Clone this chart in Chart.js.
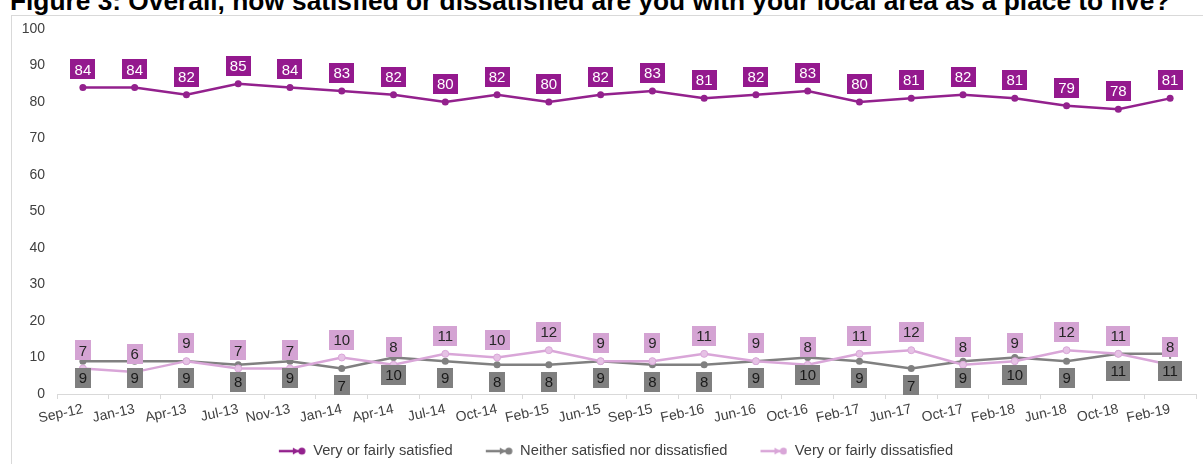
<!DOCTYPE html>
<html>
<head>
<meta charset="utf-8">
<script src="https://cdn.jsdelivr.net/npm/chart.js@4/dist/chart.umd.min.js"></script>
<style>
  html, body { margin: 0; padding: 0; background: #fff; overflow: hidden; }
  #wrap { position: relative; width: 1203px; height: 464px; }
  #title {
    position: absolute; left: 10px; top: -12.5px;
    font: bold 26.3px "Liberation Sans", Arial, sans-serif; line-height: 26px;
    color: #000; white-space: nowrap;
  }
  #frame {
    position: absolute; left: 11px; top: 15px; right: 0; bottom: 0;
    border-left: 1px solid #d9d9d9; border-top: 1px solid #d9d9d9;
  }
  #c { position: absolute; left: 0; top: 0; }
</style>
</head>
<body>
<div id="wrap">
  <div id="title">Figure 3: Overall, how satisfied or dissatisfied are you with your local area as a place to live?</div>
  <div id="frame"></div>
  <canvas id="c" width="1203" height="464"></canvas>
</div>
<script>
// Survey waves
const waves = ['Sep-12', 'Jan-13', 'Apr-13', 'Jul-13', 'Nov-13', 'Jan-14', 'Apr-14', 'Jul-14',
  'Oct-14', 'Feb-15', 'Jun-15', 'Sep-15', 'Feb-16', 'Jun-16', 'Oct-16', 'Feb-17', 'Jun-17',
  'Oct-17', 'Feb-18', 'Jun-18', 'Oct-18', 'Feb-19'];

// Percentages per wave
const satisfied    = [84, 84, 82, 85, 84, 83, 82, 80, 82, 80, 82, 83, 81, 82, 83, 80, 81, 82, 81, 79, 78, 81];
const neither      = [9, 9, 9, 8, 9, 7, 10, 9, 8, 8, 9, 8, 8, 9, 10, 9, 7, 9, 10, 9, 11, 11];
const dissatisfied = [7, 6, 9, 7, 7, 10, 8, 11, 10, 12, 9, 9, 11, 9, 8, 11, 12, 8, 9, 12, 11, 8];

// Y axis ticks
const yTicks = [0, 10, 20, 30, 40, 50, 60, 70, 80, 90, 100];

const FONT = '"Liberation Sans", Arial, sans-serif';
const C_SAT = '#93218d';
const C_NEI = '#808080';
const C_DIS = '#d9a6d8';

// Legend marker: line with arrow head and dot, with blank lead-in space on the left
const MARK_LEAD = 24;
const MARK_W = 28;
const LEGEND_SHIFT = 2;
function legendMark(color) {
  const c = document.createElement('canvas');
  c.width = MARK_LEAD + MARK_W; c.height = 10;
  const g = c.getContext('2d');
  g.translate(MARK_LEAD + 1, 0);
  g.strokeStyle = color; g.fillStyle = color; g.lineWidth = 2.5;
  g.beginPath(); g.moveTo(0, 5); g.lineTo(20, 5); g.stroke();
  g.beginPath(); g.moveTo(14, 1.5); g.lineTo(20, 5); g.lineTo(14, 8.5); g.closePath(); g.fill();
  g.beginPath(); g.arc(23, 5, 3.5, 0, Math.PI * 2); g.fill();
  return c;
}
const marks = [legendMark(C_SAT), legendMark(C_NEI), legendMark(C_DIS)];

// Boxed value labels drawn next to every point
const valueLabels = {
  id: 'valueLabels',
  afterLayout(chart) {
    if (chart.legend) {
      chart.legend.left += LEGEND_SHIFT;
      chart.legend.right += LEGEND_SHIFT;
    }
  },
  afterDatasetsDraw(chart) {
    const ctx = chart.ctx;
    const drawOrder = [1, 2, 0];
    drawOrder.forEach(di => {
      const ds = chart.data.datasets[di];
      const st = ds.labelStyle;
      const meta = chart.getDatasetMeta(di);
      ctx.save();
      ctx.font = '15px ' + FONT;
      ctx.textAlign = 'center';
      ctx.textBaseline = 'middle';
      meta.data.forEach((pt, i) => {
        const txt = String(ds.data[i]);
        const w = Math.round(ctx.measureText(txt).width + 8);
        const h = 20;
        const cy = pt.y + st.offset;
        ctx.fillStyle = st.bg;
        ctx.fillRect(Math.round(pt.x - w / 2), Math.round(cy - h / 2), w, h);
        ctx.fillStyle = st.color;
        ctx.fillText(txt, pt.x, cy + 1);
      });
      ctx.restore();
    });
  }
};

const lastIdx = waves.length - 1;

new Chart(document.getElementById('c'), {
  type: 'line',
  data: {
    labels: waves,
    datasets: [
      {
        label: 'Very or fairly satisfied',
        data: satisfied,
        borderColor: C_SAT, backgroundColor: C_SAT,
        pointBackgroundColor: C_SAT, pointBorderColor: C_SAT,
        borderWidth: 2.5, pointRadius: 3.5, pointBorderWidth: 0,
        order: 0,
        labelStyle: { bg: '#94198e', color: '#ffffff', offset: -18 }
      },
      {
        label: 'Neither satisfied nor dissatisfied',
        data: neither,
        borderColor: C_NEI, backgroundColor: C_NEI,
        pointBackgroundColor: C_NEI, pointBorderColor: C_NEI,
        borderWidth: 2.5, pointRadius: waves.map((_, i) => i === lastIdx ? 5 : 3.5),
        pointBorderWidth: waves.map((_, i) => i === lastIdx ? 2 : 0),
        pointStyle: waves.map((_, i) => i === lastIdx ? 'line' : 'circle'),
        pointRotation: waves.map((_, i) => i === lastIdx ? 90 : 0),
        order: 2,
        labelStyle: { bg: '#7f7f7f', color: '#1a1a1a', offset: 17 }
      },
      {
        label: 'Very or fairly dissatisfied',
        data: dissatisfied,
        borderColor: C_DIS, backgroundColor: C_DIS,
        pointBackgroundColor: '#e6c2e5', pointBorderColor: C_DIS,
        borderWidth: 2.5, pointRadius: 3.5, pointBorderWidth: 1,
        order: 1,
        labelStyle: { bg: '#d4a3d3', color: '#262626', offset: -18 }
      }
    ]
  },
  options: {
    responsive: false,
    animation: false,
    events: [],
    layout: { padding: { top: 29, left: 0, right: 0, bottom: 0 } },
    scales: {
      x: {
        offset: true,
        grid: { offset: true, drawOnChartArea: false, drawTicks: true, tickLength: 5, color: '#d9d9d9' },
        border: { color: '#d9d9d9', width: 1 },
        ticks: {
          autoSkip: false, minRotation: 12, maxRotation: 12, padding: 2,
          color: '#404040', font: { size: 14, family: FONT }
        },
        afterFit(s) { s.height = 41.75; }
      },
      y: {
        min: 0, max: 100,
        afterBuildTicks(s) { s.ticks = yTicks.map(v => ({ value: v })); },
        grid: { display: false, drawTicks: false },
        border: { display: false },
        ticks: { padding: 12, color: '#404040', font: { size: 14, family: FONT } },
        afterFit(s) { s.width = 57; }
      }
    },
    plugins: {
      tooltip: { enabled: false },
      legend: {
        position: 'bottom',
        maxHeight: 28.25,
        labels: {
          usePointStyle: true, pointStyleWidth: MARK_LEAD + MARK_W, boxHeight: 10, padding: 8,
          color: '#404040', font: { size: 14.7, family: FONT },
          generateLabels(chart) {
            const items = Chart.defaults.plugins.legend.labels.generateLabels(chart);
            items.forEach(it => { it.pointStyle = marks[it.datasetIndex]; it.rotation = 0; });
            items.sort((a, b) => a.datasetIndex - b.datasetIndex);
            return items;
          }
        }
      }
    }
  },
  plugins: [valueLabels]
});
</script>
</body>
</html>
